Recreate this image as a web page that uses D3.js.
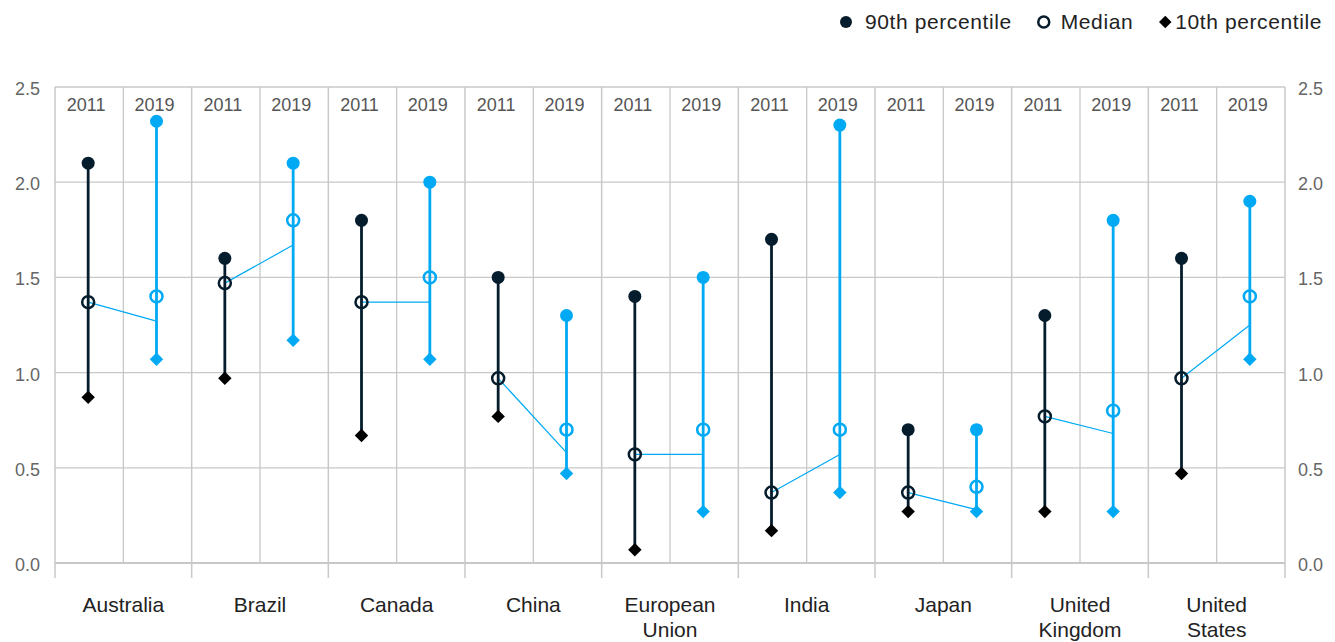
<!DOCTYPE html>
<html>
<head>
<meta charset="utf-8">
<script src="https://cdn.jsdelivr.net/npm/d3@7"></script>
<style>
  body { margin: 0; background: #fff; }
  svg { font-family: "Liberation Sans", Arial, sans-serif; }
</style>
</head>
<body>
<svg width="1335" height="642"></svg>
<script>
// data
var countries = ["Australia", "Brazil", "Canada", "China", "European Union", "India", "Japan", "United Kingdom", "United States"];
var years = ["2011", "2019"];
var p90_2011 = [2.10, 1.60, 1.80, 1.50, 1.40, 1.70, 0.70, 1.30, 1.60];
var median_2011 = [1.37, 1.47, 1.37, 0.97, 0.57, 0.37, 0.37, 0.77, 0.97];
var p10_2011 = [0.87, 0.97, 0.67, 0.77, 0.07, 0.17, 0.27, 0.27, 0.47];
var p90_2019 = [2.32, 2.10, 2.00, 1.30, 1.50, 2.30, 0.70, 1.80, 1.90];
var median_2019 = [1.40, 1.80, 1.50, 0.70, 0.70, 0.70, 0.40, 0.80, 1.40];
var p10_2019 = [1.07, 1.17, 1.07, 0.47, 0.27, 0.37, 0.27, 0.27, 1.07];
// the thin connector from 2011 median ends at this value on the 2019 stem
var linkEnd = [1.27, 1.67, 1.37, 0.58, 0.57, 0.57, 0.28, 0.68, 1.25];
var yTicks = [0, 0.5, 1.0, 1.5, 2.0, 2.5];

var navy = "#051c2c", cyan = "#00a9f4", grid = "#c8c8c8";

var svg = d3.select("svg");

var x = d3.scaleBand().domain(countries).range([55, 1285]);
var sub = d3.scaleBand().domain(years).range([0, x.bandwidth()]);
var y = d3.scaleLinear().domain([0, 2.5]).range([563, 87]);

// build rows
var rows = [];
countries.forEach(function (c, i) {
  rows.push({ country: c, year: "2011", hi: p90_2011[i], med: median_2011[i], lo: p10_2011[i] });
  rows.push({ country: c, year: "2019", hi: p90_2019[i], med: median_2019[i], lo: p10_2019[i] });
});
var cx = function (d) { return x(d.country) + sub(d.year) + sub.bandwidth() / 2 - 1; };

// horizontal gridlines
svg.append("g")
  .selectAll("line")
  .data(yTicks)
  .enter()
  .append("line")
  .attr("x1", 55)
  .attr("x2", 1285)
  .attr("y1", (d) => y(d))
  .attr("y2", (d) => y(d))
  .attr("stroke", grid)
  .attr("stroke-width", (d) => (d == 0 ? 1.8 : 1.3));

// vertical gridlines: sub dividers and country boundaries
var subLines = [];
countries.forEach(function (c) { subLines.push(x(c) + sub("2019")); });
svg.append("g")
  .selectAll("line")
  .data(subLines)
  .enter()
  .append("line")
  .attr("x1", (d) => d)
  .attr("x2", (d) => d)
  .attr("y1", y(2.5))
  .attr("y2", y(0))
  .attr("stroke", grid)
  .attr("stroke-width", 1.3);

var bounds = countries.map((c) => x(c)).concat([x.range()[1]]);
svg.append("g")
  .selectAll("line")
  .data(bounds)
  .enter()
  .append("line")
  .attr("x1", (d) => d)
  .attr("x2", (d) => d)
  .attr("y1", y(2.5))
  .attr("y2", y(0) + 15)
  .attr("stroke", grid)
  .attr("stroke-width", 1.5);

// y tick labels, both sides
svg.append("g")
  .selectAll("text")
  .data(yTicks)
  .enter()
  .append("text")
  .attr("x", 40)
  .attr("y", (d) => y(d) + 8)
  .attr("text-anchor", "end")
  .style("font-size", "18px")
  .style("fill", "#666")
  .text((d) => d.toFixed(1));

svg.append("g")
  .selectAll("text")
  .data(yTicks)
  .enter()
  .append("text")
  .attr("x", 1298)
  .attr("y", (d) => y(d) + 8)
  .style("font-size", "18px")
  .style("fill", "#666")
  .text((d) => d.toFixed(1));

// year labels on top of each column
svg.append("g")
  .selectAll("text")
  .data(rows)
  .enter()
  .append("text")
  .attr("x", (d) => cx(d) - 2)
  .attr("y", 111)
  .attr("text-anchor", "middle")
  .style("font-size", "18px")
  .style("fill", "#555")
  .text((d) => d.year);

// country labels
var clab = svg.append("g")
  .selectAll("text")
  .data(countries)
  .enter()
  .append("text")
  .attr("text-anchor", "middle")
  .style("font-size", "21px")
  .style("fill", "#222");
clab.each(function (c) {
  var t = d3.select(this);
  c.split(" ").forEach(function (w, j) {
    t.append("tspan")
      .attr("x", x(c) + x.bandwidth() / 2)
      .attr("y", 612 + j * 25)
      .text(w);
  });
});

// thin median connectors
svg.append("g")
  .selectAll("line")
  .data(countries)
  .enter()
  .append("line")
  .attr("x1", (c) => x(c) + sub("2011") + sub.bandwidth() / 2 - 1)
  .attr("y1", (c, i) => y(median_2011[i]))
  .attr("x2", (c) => x(c) + sub("2019") + sub.bandwidth() / 2 - 1)
  .attr("y2", (c, i) => y(linkEnd[i]))
  .attr("stroke", cyan)
  .attr("stroke-width", 1.2);

var col = (d) => (d.year == "2011" ? navy : cyan);

// stems from 10th to 90th percentile
svg.append("g")
  .selectAll("line")
  .data(rows)
  .enter()
  .append("line")
  .attr("x1", cx)
  .attr("x2", cx)
  .attr("y1", (d) => y(d.hi))
  .attr("y2", (d) => y(d.lo))
  .attr("stroke", col)
  .attr("stroke-width", 2.8);

// 90th percentile dots
svg.append("g")
  .selectAll("circle")
  .data(rows)
  .enter()
  .append("circle")
  .attr("cx", cx)
  .attr("cy", (d) => y(d.hi))
  .attr("r", 6.5)
  .style("fill", col);

// medians
svg.append("g")
  .selectAll("circle")
  .data(rows)
  .enter()
  .append("circle")
  .attr("cx", cx)
  .attr("cy", (d) => y(d.med))
  .attr("r", 6)
  .style("fill", "none")
  .style("stroke", col)
  .style("stroke-width", 2.5);

// 10th percentile diamonds
var diamond = d3.symbol().type(d3.symbolDiamond2).size(115);
svg.append("g")
  .selectAll("path")
  .data(rows)
  .enter()
  .append("path")
  .attr("d", diamond)
  .attr("transform", (d) => `translate(${cx(d)},${y(d.lo)})`)
  .style("fill", (d) => (d.year == "2011" ? "#000" : cyan));

// legend
var legendItems = ["90th percentile", "Median", "10th percentile"];
var markerOff = [19, 17, 10];
var legendDiamond = d3.symbol().type(d3.symbolDiamond2).size(100);
var legend = svg.append("g").attr("class", "legend");
var lx = 1322;
for (let i = legendItems.length - 1; i >= 0; i--) {
  var g = legend.append("g");
  var t = g.append("text")
    .attr("y", 29)
    .style("font-size", "21px")
    .style("letter-spacing", "0.6px")
    .style("fill", "#222")
    .text(legendItems[i]);
  var w = t.node().getComputedTextLength();
  var tx = lx - w;
  var mx = tx - markerOff[i];
  t.attr("x", tx);
  if (i == 0) {
    g.append("circle").attr("cx", mx).attr("cy", 22).attr("r", 6).style("fill", navy);
  } else if (i == 1) {
    g.append("circle").attr("cx", mx).attr("cy", 22).attr("r", 5.5)
      .style("fill", "none").style("stroke", navy).style("stroke-width", 2.5);
  } else {
    g.append("path").attr("d", legendDiamond).attr("transform", `translate(${mx},22)`).style("fill", "#000");
  }
  lx = mx - 32;
}
</script>
</body>
</html>
